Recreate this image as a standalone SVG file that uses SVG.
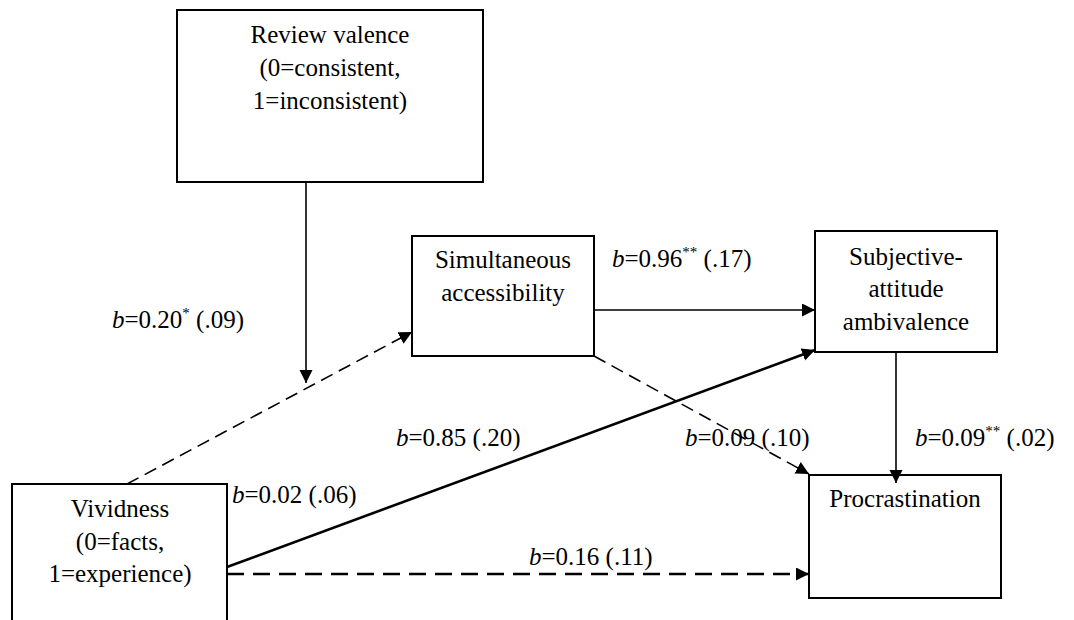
<svg xmlns="http://www.w3.org/2000/svg" width="1074" height="620" viewBox="0 0 1074 620">
<style>
.box{fill:#fff;stroke:#000;stroke-width:2}
.t{font-family:"Liberation Serif","Times New Roman",serif;font-size:25px;fill:#000}
.c{text-anchor:middle}
.ln{fill:none;stroke:#000;stroke-width:1.6}
.thick{stroke-width:2.6}
.dash{stroke-dasharray:13 7}
.dash2{stroke-dasharray:17 9}
.sup{font-size:15px}
</style>
<defs>
<marker id="ah" markerUnits="userSpaceOnUse" markerWidth="14" markerHeight="14" refX="13" refY="6.5" orient="auto">
<path d="M0,0 L13,6.5 L0,13 z" fill="#000"/>
</marker>
</defs>
<rect width="1074" height="620" fill="#fff"/>
<g id="review">
<rect class="box" x="177" y="10" width="306" height="172"/>
<text class="t c" x="330" y="43">Review valence</text>
<text class="t c" x="330" y="76">(0=consistent,</text>
<text class="t c" x="330" y="109">1=inconsistent)</text>
</g>
<g id="simultaneous">
<rect class="box" x="412" y="236" width="182" height="120"/>
<text class="t c" x="503" y="268">Simultaneous</text>
<text class="t c" x="503" y="301">accessibility</text>
</g>
<g id="subjective">
<rect class="box" x="815" y="231" width="182" height="121"/>
<text class="t c" x="906" y="265">Subjective-</text>
<text class="t c" x="906" y="297">attitude</text>
<text class="t c" x="906" y="330">ambivalence</text>
</g>
<g id="procrastination">
<rect class="box" x="809" y="475" width="192" height="123"/>
<text class="t c" x="905" y="507">Procrastination</text>
</g>
<g id="vividness">
<rect class="box" x="12" y="484" width="215" height="140"/>
<text class="t c" x="120" y="517">Vividness</text>
<text class="t c" x="120" y="550">(0=facts,</text>
<text class="t c" x="120" y="582">1=experience)</text>
</g>
<g id="connectors">
<line class="ln" x1="306" y1="182" x2="306" y2="383" marker-end="url(#ah)"/>
<line class="ln dash" x1="127" y1="484" x2="412" y2="332" marker-end="url(#ah)"/>
<line class="ln" x1="594" y1="310" x2="815" y2="310" marker-end="url(#ah)"/>
<line class="ln" x1="896" y1="352" x2="896" y2="483" marker-end="url(#ah)"/>
<line class="ln dash" x1="594" y1="356" x2="809" y2="474" marker-end="url(#ah)"/>
<line class="ln thick" x1="227" y1="567" x2="815" y2="350" marker-end="url(#ah)"/>
<line class="ln thick dash2" x1="227" y1="574" x2="809" y2="574" marker-end="url(#ah)"/>
</g>
<g id="labels">
<text class="t" x="112" y="328"><tspan font-style="italic">b</tspan>=0.20<tspan class="sup" dy="-10">*</tspan><tspan dy="10"> (.09)</tspan></text>
<text class="t" x="612" y="267"><tspan font-style="italic">b</tspan>=0.96<tspan class="sup" dy="-10">**</tspan><tspan dy="10"> (.17)</tspan></text>
<text class="t" x="396" y="446"><tspan font-style="italic">b</tspan>=0.85 (.20)</text>
<text class="t" x="685" y="446"><tspan font-style="italic">b</tspan>=0.09 (.10)</text>
<text class="t" x="915" y="446"><tspan font-style="italic">b</tspan>=0.09<tspan class="sup" dy="-10">**</tspan><tspan dy="10"> (.02)</tspan></text>
<text class="t" x="232" y="503"><tspan font-style="italic">b</tspan>=0.02 (.06)</text>
<text class="t" x="529" y="565"><tspan font-style="italic">b</tspan>=0.16 (.11)</text>
</g>
</svg>
